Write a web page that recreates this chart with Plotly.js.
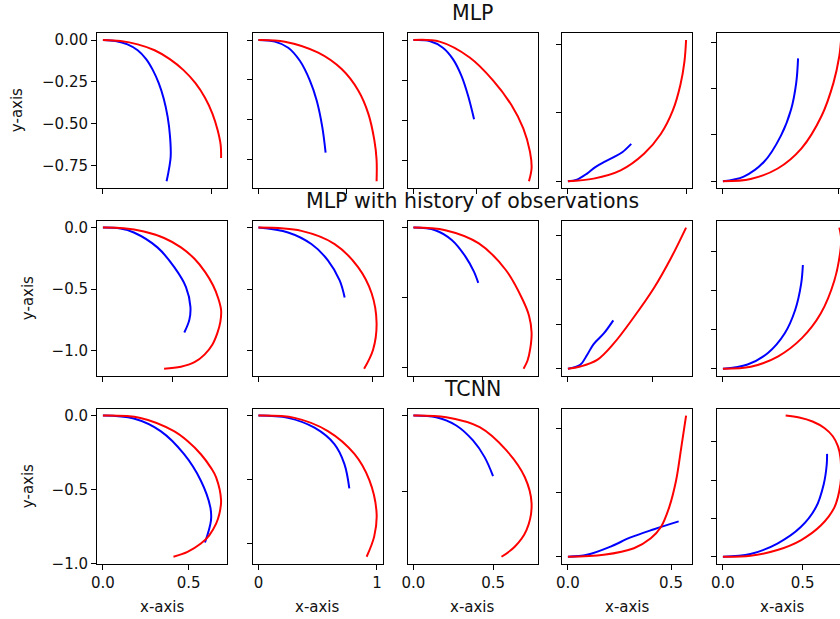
<!DOCTYPE html>
<html><head><meta charset="utf-8">
<script src="https://cdn.plot.ly/plotly-3.0.1.min.js"></script>
<style>html,body{margin:0;padding:0;overflow:hidden;background:#fff}#chart{width:880px;height:619px}</style>
</head><body><div id="chart"></div>
<script>
// ---------- data (blue = predicted, red = reference) ----------
// Row 1: MLP
const r1c1PredX = [0, 0.058, 0.113, 0.160, 0.199, 0.230, 0.257, 0.280, 0.298, 0.309, 0.312, 0.301, 0.293];
const r1c1PredY = [0, -0.006, -0.026, -0.061, -0.114, -0.180, -0.258, -0.351, -0.460, -0.578, -0.697, -0.795, -0.845];
const r1c1TrueX = [0, 0.081, 0.160, 0.238, 0.308, 0.371, 0.426, 0.470, 0.504, 0.528, 0.542, 0.544];
const r1c1TrueY = [0, -0.006, -0.026, -0.061, -0.114, -0.180, -0.258, -0.345, -0.440, -0.539, -0.628, -0.706];

const r1c2PredX = [0, 0.093, 0.169, 0.235, 0.292, 0.330, 0.362, 0.381];
const r1c2PredY = [0, -0.010, -0.048, -0.130, -0.254, -0.378, -0.544, -0.705];
const r1c2TrueX = [0, 0.150, 0.339, 0.472, 0.566, 0.623, 0.657, 0.670, 0.670];
const r1c2TrueY = [0, -0.010, -0.079, -0.182, -0.316, -0.461, -0.626, -0.750, -0.885];

const r1c3PredX = [0, 0.128, 0.234, 0.314, 0.381, 0.434, 0.482];
const r1c3PredY = [0, -0.006, -0.048, -0.119, -0.222, -0.346, -0.494];
const r1c3TrueX = [0, 0.208, 0.447, 0.634, 0.780, 0.873, 0.926, 0.939, 0.918];
const r1c3TrueY = [0, -0.010, -0.109, -0.253, -0.407, -0.551, -0.696, -0.798, -0.881];

const r1c4PredX = [0, 0.038, 0.081, 0.116, 0.152, 0.194, 0.230, 0.268];
const r1c4PredY = [0, 0.012, 0.056, 0.103, 0.139, 0.175, 0.211, 0.272];
const r1c4TrueX = [0, 0.109, 0.223, 0.322, 0.393, 0.443, 0.476, 0.493, 0.500];
const r1c4TrueY = [0, 0.019, 0.079, 0.200, 0.344, 0.512, 0.704, 0.872, 1.029];

const r1c5PredX = [0, 0.090, 0.178, 0.251, 0.295, 0.317, 0.325];
const r1c5PredY = [0, 0.020, 0.084, 0.197, 0.311, 0.425, 0.531];
const r1c5TrueX = [0, 0.120, 0.237, 0.339, 0.427, 0.478, 0.503, 0.511];
const r1c5TrueY = [0, 0.010, 0.055, 0.141, 0.283, 0.425, 0.539, 0.610];

// Row 2: MLP with history of observations
const r2c1PredX = [0, 0.125, 0.222, 0.391, 0.512, 0.596, 0.628, 0.620, 0.584];
const r2c1PredY = [0, -0.008, -0.040, -0.161, -0.322, -0.483, -0.644, -0.750, -0.853];
const r2c1TrueX = [0, 0.149, 0.294, 0.439, 0.560, 0.657, 0.734, 0.790, 0.828, 0.848, 0.843, 0.821, 0.785, 0.729, 0.657, 0.560, 0.439];
const r2c1TrueY = [0, -0.005, -0.032, -0.085, -0.161, -0.254, -0.362, -0.469, -0.576, -0.670, -0.764, -0.858, -0.952, -1.032, -1.094, -1.131, -1.147];

const r2c2PredX = [0, 0.261, 0.466, 0.613, 0.715, 0.759];
const r2c2PredY = [0, -0.040, -0.134, -0.268, -0.429, -0.568];
const r2c2TrueX = [0, 0.378, 0.671, 0.877, 0.997, 1.040, 1.009, 0.930];
const r2c2TrueY = [0, -0.027, -0.134, -0.322, -0.536, -0.777, -0.992, -1.147];

const r2c3PredX = [0, 0.157, 0.278, 0.375, 0.435, 0.467];
const r2c3PredY = [0, -0.019, -0.090, -0.207, -0.313, -0.395];
const r2c3TrueX = [0, 0.230, 0.471, 0.664, 0.786, 0.833, 0.851, 0.841, 0.822, 0.793];
const r2c3TrueY = [0, -0.019, -0.113, -0.301, -0.513, -0.630, -0.748, -0.866, -0.948, -1.007];

const r2c4PredX = [0, 0.073, 0.113, 0.152, 0.212, 0.268];
const r2c4PredY = [0, 0.018, 0.062, 0.111, 0.159, 0.218];
const r2c4TrueX = [0, 0.073, 0.173, 0.271, 0.390, 0.510, 0.609, 0.698];
const r2c4TrueY = [0, 0.010, 0.040, 0.114, 0.233, 0.366, 0.499, 0.636];

const r2c5PredX = [0, 0.098, 0.179, 0.246, 0.287, 0.311, 0.318];
const r2c5PredY = [0, 0.022, 0.081, 0.182, 0.300, 0.434, 0.532];
const r2c5TrueX = [0, 0.111, 0.220, 0.314, 0.389, 0.443, 0.467, 0.470, 0.463];
const r2c5TrueY = [0, 0.010, 0.064, 0.157, 0.283, 0.451, 0.603, 0.670, 0.724];

// Row 3: TCNN
const r3c1PredX = [0, 0.180, 0.337, 0.474, 0.572, 0.627, 0.631, 0.596];
const r3c1PredY = [0, -0.020, -0.105, -0.261, -0.440, -0.618, -0.707, -0.857];
const r3c1TrueX = [0, 0.219, 0.415, 0.494, 0.572, 0.631, 0.661, 0.690, 0.680, 0.661, 0.621, 0.572, 0.494, 0.412];
const r3c1TrueY = [0, -0.016, -0.105, -0.172, -0.261, -0.353, -0.417, -0.574, -0.663, -0.730, -0.808, -0.864, -0.920, -0.953];

const r3c2PredX = [0, 0.249, 0.473, 0.641, 0.725, 0.767];
const r3c2PredY = [0, -0.018, -0.095, -0.223, -0.377, -0.569];
const r3c2TrueX = [0, 0.305, 0.586, 0.810, 0.936, 0.997, 0.977, 0.913];
const r3c2TrueY = [0, -0.018, -0.121, -0.300, -0.505, -0.762, -0.944, -1.103];

const r3c3PredX = [0, 0.143, 0.269, 0.374, 0.447, 0.500];
const r3c3PredY = [0, -0.011, -0.065, -0.163, -0.272, -0.396];
const r3c3TrueX = [0, 0.206, 0.416, 0.584, 0.699, 0.742, 0.710, 0.636, 0.553];
const r3c3TrueY = [0, -0.011, -0.076, -0.228, -0.402, -0.576, -0.750, -0.859, -0.924];

const r3c4PredX = [0, 0.093, 0.207, 0.304, 0.418, 0.537];
const r3c4PredY = [0, 0.015, 0.079, 0.150, 0.214, 0.275];
const r3c4TrueX = [0, 0.174, 0.320, 0.402, 0.451, 0.491, 0.524, 0.549, 0.573];
const r3c4TrueY = [0, 0.015, 0.066, 0.143, 0.231, 0.384, 0.588, 0.842, 1.097];

const r3c5PredX = [0, 0.173, 0.342, 0.489, 0.584, 0.633, 0.652, 0.654];
const r3c5PredY = [0, 0.014, 0.069, 0.155, 0.258, 0.379, 0.483, 0.537];
const r3c5TrueX = [0, 0.173, 0.342, 0.489, 0.616, 0.700, 0.738, 0.742, 0.738, 0.722, 0.690, 0.637, 0.563, 0.479, 0.394];
const r3c5TrueY = [0, 0.005, 0.035, 0.086, 0.164, 0.258, 0.379, 0.448, 0.517, 0.577, 0.629, 0.672, 0.706, 0.727, 0.737];

const rowTitles = ['MLP', 'MLP with history of observations', 'TCNN'];
const xLabel = 'x-axis';
const yLabel = 'y-axis';

const panels = [
  [[r1c1PredX, r1c1PredY, r1c1TrueX, r1c1TrueY], [r1c2PredX, r1c2PredY, r1c2TrueX, r1c2TrueY],
   [r1c3PredX, r1c3PredY, r1c3TrueX, r1c3TrueY], [r1c4PredX, r1c4PredY, r1c4TrueX, r1c4TrueY],
   [r1c5PredX, r1c5PredY, r1c5TrueX, r1c5TrueY]],
  [[r2c1PredX, r2c1PredY, r2c1TrueX, r2c1TrueY], [r2c2PredX, r2c2PredY, r2c2TrueX, r2c2TrueY],
   [r2c3PredX, r2c3PredY, r2c3TrueX, r2c3TrueY], [r2c4PredX, r2c4PredY, r2c4TrueX, r2c4TrueY],
   [r2c5PredX, r2c5PredY, r2c5TrueX, r2c5TrueY]],
  [[r3c1PredX, r3c1PredY, r3c1TrueX, r3c1TrueY], [r3c2PredX, r3c2PredY, r3c2TrueX, r3c2TrueY],
   [r3c3PredX, r3c3PredY, r3c3TrueX, r3c3TrueY], [r3c4PredX, r3c4PredY, r3c4TrueX, r3c4TrueY],
   [r3c5PredX, r3c5PredY, r3c5TrueX, r3c5TrueY]]
];

// ---------- axis tick steps (style) ----------
const xStep = [[0.5,0.5,0.5,0.5,0.5],[0.5,1,0.5,0.5,0.5],[0.5,1,0.5,0.5,0.5]];
const yStep = [[0.25,0.25,0.25,0.5,0.2],[0.5,0.5,0.5,0.2,0.2],[0.5,0.5,0.5,0.5,0.2]];
const xFmt = ['.1f', '', '.1f', '.1f', '.1f'];
const yFmt = ['.2f', '.1f', '.1f'];

// ---------- geometry ----------
const FIG_W = 880, FIG_H = 619;
const colLeft = [97, 252.5, 407.5, 562, 717];
const AX_W = 130;
const rowTop = [33, 220.5, 408.5];
const AX_H = 155.3;
const FONT = 'DejaVu Sans, sans-serif';
const TXT = '#111';

function padRange(arrs) {
  let lo = Infinity, hi = -Infinity;
  arrs.forEach(a => a.forEach(v => { if (v < lo) lo = v; if (v > hi) hi = v; }));
  const s = hi - lo;
  return [lo - 0.05 * s, hi + 0.05 * s];
}

const traces = [];
const layout = {
  width: FIG_W, height: FIG_H,
  margin: {l: 0, r: 0, t: 0, b: 0},
  paper_bgcolor: '#fff', plot_bgcolor: '#fff',
  showlegend: false,
  font: {family: FONT, size: 15, color: TXT},
  annotations: []
};

let n = 0;
for (let r = 0; r < 3; r++) {
  for (let c = 0; c < 5; c++) {
    n++;
    const sfx = n === 1 ? '' : String(n);
    const [px, py, tx, ty] = panels[r][c];
    traces.push({x: px, y: py, xaxis: 'x' + sfx, yaxis: 'y' + sfx, type: 'scatter', mode: 'lines',
      line: {color: '#0000ff', width: 2, shape: 'spline', smoothing: 1}, hoverinfo: 'skip'});
    traces.push({x: tx, y: ty, xaxis: 'x' + sfx, yaxis: 'y' + sfx, type: 'scatter', mode: 'lines',
      line: {color: '#ff0000', width: 2, shape: 'spline', smoothing: 1}, hoverinfo: 'skip'});
    const common = {showgrid: false, zeroline: false, showline: true, mirror: true, linecolor: '#000', linewidth: 1,
      ticks: 'outside', ticklen: 5, tickwidth: 1, tickcolor: '#000', tickmode: 'linear', tick0: 0,
      tickfont: {family: FONT, size: 15, color: TXT}, fixedrange: true};
    layout['xaxis' + sfx] = Object.assign({}, common, {
      domain: [colLeft[c] / FIG_W, (colLeft[c] + AX_W) / FIG_W],
      anchor: 'y' + sfx, range: padRange([px, tx]), dtick: xStep[r][c],
      showticklabels: r === 2, tickformat: xFmt[c]
    });
    layout['yaxis' + sfx] = Object.assign({}, common, {
      domain: [1 - (rowTop[r] + AX_H) / FIG_H, 1 - rowTop[r] / FIG_H],
      anchor: 'x' + sfx, range: padRange([py, ty]), dtick: yStep[r][c],
      showticklabels: c === 0, tickformat: yFmt[r]
    });
  }
  layout.annotations.push({text: rowTitles[r], xref: 'paper', yref: 'paper',
    x: (colLeft[2] + AX_W / 2) / FIG_W, y: 1 - (rowTop[r] - 19.5) / FIG_H,
    xanchor: 'center', yanchor: 'middle', showarrow: false, font: {family: FONT, size: 20.5, color: TXT}});
  layout.annotations.push({text: yLabel, xref: 'paper', yref: 'paper', textangle: -90,
    x: (r === 0 ? 16.5 : 28) / FIG_W, y: 1 - (rowTop[r] + AX_H / 2) / FIG_H,
    xanchor: 'center', yanchor: 'middle', showarrow: false, font: {family: FONT, size: 15, color: TXT}});
}
for (let c = 0; c < 5; c++) {
  layout.annotations.push({text: xLabel, xref: 'paper', yref: 'paper',
    x: (colLeft[c] + AX_W / 2) / FIG_W, y: 1 - 607 / FIG_H,
    xanchor: 'center', yanchor: 'middle', showarrow: false, font: {family: FONT, size: 15, color: TXT}});
}

Plotly.newPlot('chart', traces, layout, {staticPlot: true, displayModeBar: false});
</script>
</body></html>
